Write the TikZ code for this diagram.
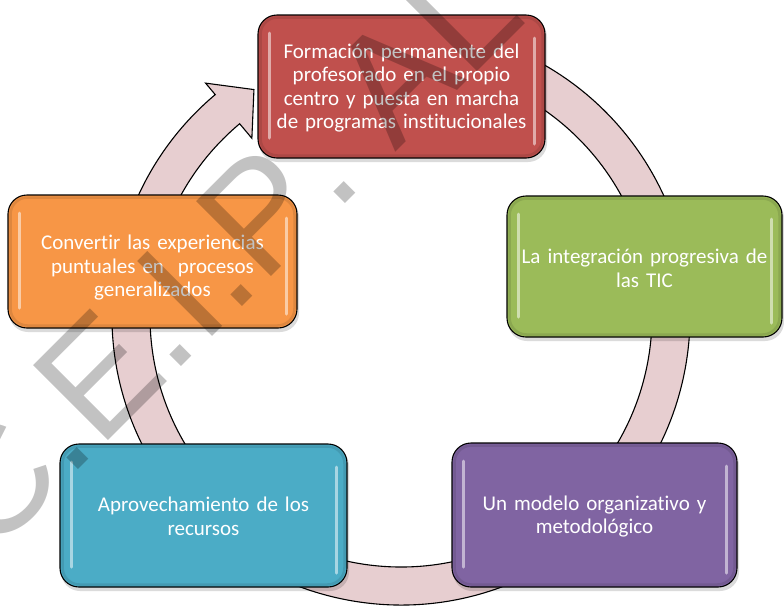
\documentclass[tikz,border=0pt]{standalone}
\usepackage{fontspec}
\setmainfont{Carlito}[Ligatures=NoCommon]
\newfontfamily\wmfont[Kerning=Off]{Liberation Sans}
\usetikzlibrary{calc}
\definecolor{cred}{HTML}{C0504D}
\definecolor{cgreen}{HTML}{9BBB59}
\definecolor{corange}{HTML}{F79646}
\definecolor{cblue}{HTML}{4BACC6}
\definecolor{cpurple}{HTML}{8064A2}
\definecolor{bandpink}{RGB}{231,206,208}
\tikzset{
  cyclebox/.style={draw=black, line width=1.1pt, rounded corners=19pt, inner sep=0pt},
  boxtext/.style={inner sep=0pt, text=white, align=center, font=\fontsize{21}{23.5}\selectfont},
  gloss/.style={line width=3pt, line cap=round, opacity=0.65},
  bevel/.style={line width=2.5pt, opacity=0.4, rounded corners=17pt},
  band/.style={draw=black, line width=1.1pt, fill=bandpink, line join=miter},
  shadowbox/.style={fill=black, opacity=0.14, rounded corners=19pt},
}
% name, left, top, right, bottom, colour, text y-offset, text
\newcommand{\mkbox}[8]{%
  \fill[shadowbox] (#2+1,-#3-3) rectangle (#4+2,-#5-4);
  \node[cyclebox, fill=#6, minimum width={(#4-#2)*1pt}, minimum height={(#5-#3)*1pt}]
        (#1) at ({(#2+#4)/2},{-(#3+#5)/2}) {};
  \draw[bevel, draw=#6!75!black] (#2+2.5,-#3-2.5) rectangle (#4-2.5,-#5+2.5);
  \draw[gloss, draw=#6!20!white] (#2+11,-#3-18) -- (#2+11,-#5+20);
  \draw[gloss, draw=#6!20!white] (#4-11,-#3-23) -- (#4-11,-#5+14);
  \node[boxtext, text width={(#4-#2-12)*1pt}] (#1-t) at ($(#1.center)+(0,-#7)$) {#8};
}
\begin{document}
\begin{tikzpicture}[x=1pt,y=1pt]
\useasboundingbox (0,0) rectangle (784,-606);
\fill[white] (0,0) rectangle (784,-606);
% circular arrow
\begin{scope}[shift={(401,-316)}]
  \draw[band] (80:289pt) arc[start angle=80, end angle=-230, radius=289pt]
    -- (-230:304pt) -- (-237:270pt) -- (-230:232pt) -- (-230:251pt)
    arc[start angle=-230, end angle=80, radius=251pt] -- cycle;
\end{scope}
% boxes
\mkbox{top}{258}{15}{545}{158}{cred}{1.5}{Formación permanente del\\profesorado en el propio\\centro y puesta en marcha\\de programas institucionales}
\mkbox{right}{507}{196}{782}{337}{cgreen}{2}{La integración progresiva de\\las TIC}
\mkbox{brc}{452}{443}{737}{587}{cpurple}{1.5}{Un modelo organizativo y\\metodológico}
\mkbox{blc}{60}{444}{347}{587}{cblue}{1}{Aprovechamiento de los\\recursos}
\mkbox{left}{8}{195}{297}{328}{corange}{6.5}{Convertir las experiencias\\puntuales en~ procesos\\generalizados}
% watermark
\node[rotate=45, anchor=base west, inner sep=0pt, font=\wmfont\fontsize{154}{160}\selectfont,
      text=black, text opacity=0.24] (wm) at (-9.9,-558.3) {C.E.I.P. AL};
\end{tikzpicture}
\end{document}
